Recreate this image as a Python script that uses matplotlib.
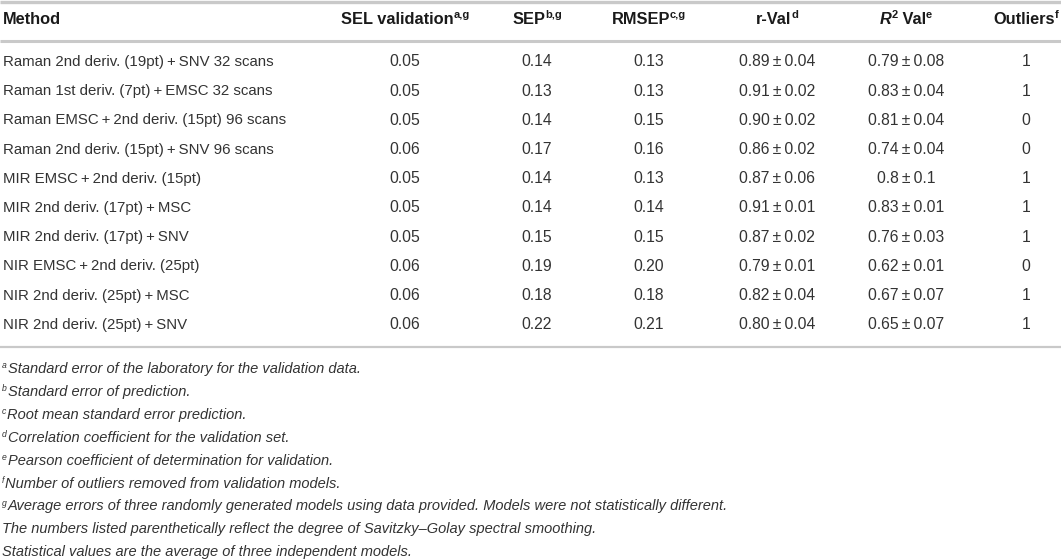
import matplotlib
matplotlib.use("Agg")
import matplotlib.pyplot as plt

plt.rcParams['font.family'] = ['Liberation Sans', 'DejaVu Sans']

TS = "\u2009"  # thin space

methods = [
    "Raman 2nd deriv. (19pt)" + TS + "+" + TS + "SNV 32 scans",
    "Raman 1st deriv. (7pt)" + TS + "+" + TS + "EMSC 32 scans",
    "Raman EMSC" + TS + "+" + TS + "2nd deriv. (15pt) 96 scans",
    "Raman 2nd deriv. (15pt)" + TS + "+" + TS + "SNV 96 scans",
    "MIR EMSC" + TS + "+" + TS + "2nd deriv. (15pt)",
    "MIR 2nd deriv. (17pt)" + TS + "+" + TS + "MSC",
    "MIR 2nd deriv. (17pt)" + TS + "+" + TS + "SNV",
    "NIR EMSC" + TS + "+" + TS + "2nd deriv. (25pt)",
    "NIR 2nd deriv. (25pt)" + TS + "+" + TS + "MSC",
    "NIR 2nd deriv. (25pt)" + TS + "+" + TS + "SNV",
]
sel = [0.05, 0.05, 0.05, 0.06, 0.05, 0.05, 0.05, 0.06, 0.06, 0.06]
sep = [0.14, 0.13, 0.14, 0.17, 0.14, 0.14, 0.15, 0.19, 0.18, 0.22]
rmsep = [0.13, 0.13, 0.15, 0.16, 0.13, 0.14, 0.15, 0.20, 0.18, 0.21]
r_val = [("0.89", "0.04"), ("0.91", "0.02"), ("0.90", "0.02"), ("0.86", "0.02"),
         ("0.87", "0.06"), ("0.91", "0.01"), ("0.87", "0.02"), ("0.79", "0.01"),
         ("0.82", "0.04"), ("0.80", "0.04")]
r2_val = [("0.79", "0.08"), ("0.83", "0.04"), ("0.81", "0.04"), ("0.74", "0.04"),
          ("0.8", "0.1"), ("0.83", "0.01"), ("0.76", "0.03"), ("0.62", "0.01"),
          ("0.67", "0.07"), ("0.65", "0.07")]
outliers = [1, 1, 0, 0, 1, 1, 1, 0, 1, 1]

footnotes = [
    ("a", "Standard error of the laboratory for the validation data."),
    ("b", "Standard error of prediction."),
    ("c", "Root mean standard error prediction."),
    ("d", "Correlation coefficient for the validation set."),
    ("e", "Pearson coefficient of determination for validation."),
    ("f", "Number of outliers removed from validation models."),
    ("g", "Average errors of three randomly generated models using data provided. "
          "Models were not statistically different."),
    ("", "The numbers listed parenthetically reflect the degree of Savitzky\u2013Golay "
         "spectral smoothing."),
    ("", "Statistical values are the average of three independent models."),
]

W, H = 1061, 560
TXT = "#333333"
HDR = "#1a1a1a"
LINE = "#c9c9c9"
FS = 10.8     # method names
NFS = 11.3    # numbers
HFS = 11.8    # header
SUP = 8
NOTE = 10.5
FSUP = 6.2

fig = plt.figure(figsize=(W / 100, H / 100), dpi=100)
ax = fig.add_axes([0, 0, 1, 1])
ax.set_xlim(0, W)
ax.set_ylim(H, 0)
ax.axis("off")
renderer = fig.canvas.get_renderer()


def width(t):
    return t.get_window_extent(renderer).width


def segments(x, y, parts, align="center", color=HDR, size=HFS, sup_size=SUP, lift=5, gap=0):
    # parts: (text, is_sup, weight, style)
    texts = []
    for s, sup, weight, style in parts:
        t = ax.text(0, y - (lift if sup else 0), s, fontsize=sup_size if sup else size,
                    fontweight=weight, fontstyle=style, color=color,
                    va="center", ha="left")
        texts.append(t)
    widths = [width(t) + gap for t in texts]
    total = sum(widths)
    x0 = x - total / 2 if align == "center" else x
    for t, w in zip(texts, widths):
        t.set_x(x0)
        x0 += w


# rules
ax.plot([0, W], [2, 2], color=LINE, lw=2.4, solid_capstyle="butt")
ax.plot([0, W], [41, 41], color=LINE, lw=2.2, solid_capstyle="butt")
ax.plot([0, W], [347, 347], color=LINE, lw=1.6, solid_capstyle="butt")

# header
hy = 20
cols = [405, 537, 649, 777, 906, 1026]
B = "bold"
ax.text(3, hy, "Method", fontsize=HFS, fontweight=B, color=HDR, va="center")
segments(cols[0], hy, [("SEL validation", False, B, "normal"), ("a,g", True, B, "normal")])
segments(cols[1], hy, [("SEP", False, B, "normal"), ("b,g", True, B, "normal")])
segments(cols[2], hy, [("RMSEP", False, B, "normal"), ("c,g", True, B, "normal")])
segments(cols[3], hy, [("r-Val", False, B, "normal"), ("d", True, B, "normal")])
segments(cols[4], hy, [("R", False, B, "italic"), ("2", True, B, "normal"),
                       (" Val", False, B, "normal"), ("e", True, B, "normal")])
segments(cols[5], hy, [("Outliers", False, B, "normal"), ("f", True, B, "normal")])

# rows
for i, m in enumerate(methods):
    y = 62 + 29.2 * i
    ax.text(3, y, m, fontsize=FS, color=TXT, va="center")
    ax.text(cols[0], y, f"{sel[i]:.2f}", fontsize=NFS, color=TXT, va="center", ha="center")
    ax.text(cols[1], y, f"{sep[i]:.2f}", fontsize=NFS, color=TXT, va="center", ha="center")
    ax.text(cols[2], y, f"{rmsep[i]:.2f}", fontsize=NFS, color=TXT, va="center", ha="center")
    ax.text(cols[3], y, r_val[i][0] + TS + "\u00b1" + TS + r_val[i][1], fontsize=NFS,
            color=TXT, va="center", ha="center")
    ax.text(cols[4], y, r2_val[i][0] + TS + "\u00b1" + TS + r2_val[i][1], fontsize=NFS,
            color=TXT, va="center", ha="center")
    ax.text(cols[5], y, str(outliers[i]), fontsize=NFS, color=TXT, va="center", ha="center")

# footnotes
for j, (letter, note) in enumerate(footnotes):
    y = 369 + 22.9 * j
    if letter:
        segments(2, y, [(letter, True, "normal", "italic"), (note, False, "normal", "italic")],
                 align="left", color=TXT, size=NOTE, sup_size=FSUP, lift=3, gap=1)
    else:
        ax.text(2, y, note, fontsize=NOTE, fontstyle="italic", color=TXT, va="center")

fig.savefig("out.png", dpi=100)
